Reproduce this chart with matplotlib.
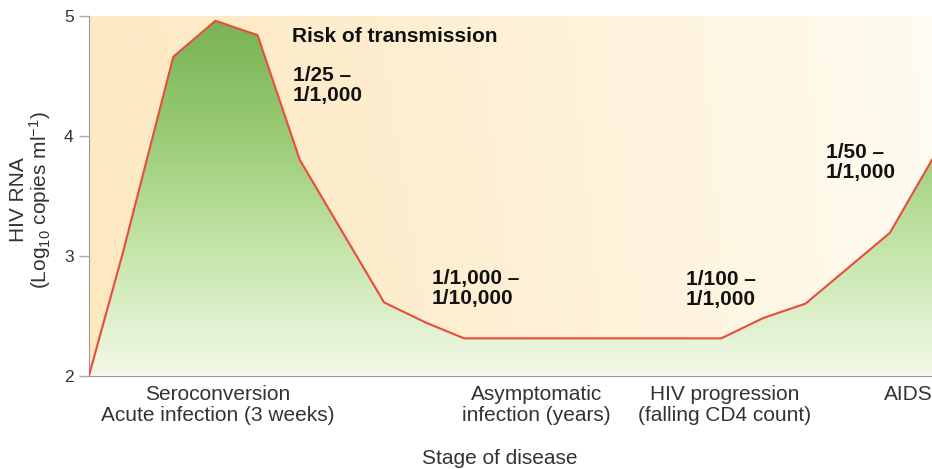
import numpy as np
import matplotlib
matplotlib.use("Agg")
import matplotlib.pyplot as plt
from matplotlib.colors import LinearSegmentedColormap
from matplotlib.patches import Polygon

plt.rcParams["font.family"] = ["Liberation Sans", "DejaVu Sans"]
plt.rcParams["mathtext.fontset"] = "custom"
plt.rcParams["mathtext.rm"] = "Liberation Sans"
plt.rcParams["mathtext.it"] = "Liberation Sans:italic"

# viral load curve (x = relative time through the stages, y = log10 copies/ml)
time = [0, 4, 10, 15, 20, 25, 35, 40, 44.5, 75, 80, 85, 95, 100]
rna = [2.0, 3.02, 4.66, 4.96, 4.84, 3.8, 2.61, 2.44, 2.31, 2.31, 2.48, 2.6, 3.19, 3.8]

stage_pos = [15.3, 53.1, 75.4, 97.2]
stage_labels = ["Seroconversion\nAcute infection (3 weeks)",
                "Asymptomatic\ninfection (years)",
                "HIV progression\n(falling CD4 count)",
                "AIDS"]

risk_pos = [(24.2, 4.42), (40.7, 2.725), (70.8, 2.72), (87.4, 3.78)]
risk_labels = ["1/25 –\n1/1,000", "1/1,000 –\n1/10,000",
               "1/100 –\n1/1,000", "1/50 –\n1/1,000"]

fig = plt.figure(figsize=(9.32, 4.69), dpi=100)
ax = fig.add_axes([89 / 932, 93.5 / 469, 1 - 89 / 932, 359.5 / 469])
ax.set_xlim(0, 100)
ax.set_ylim(2, 5)

# peach background, fading to the right
nx, ny = 200, 100
gx = np.linspace(0, 1, nx)[None, :] ** 1.3
gy = np.linspace(0, 1, ny)[:, None]
left = np.array([253, 232, 192]) / 255
right = np.array([255, 251, 240]) / 255
bg = left[None, None, :] * (1 - gx[..., None]) + right[None, None, :] * gx[..., None]
bg = bg * (0.93 + 0.07 * gy[..., None]) + 0.07 * (1 - gy[..., None])
bg = np.clip(bg, 0, 1)
ax.imshow(bg, extent=(0, 100, 2, 5), origin="upper", aspect="auto", zorder=0)

# green gradient under the curve
green = LinearSegmentedColormap.from_list(
    "g", ["#f2f9e8", "#c6e6ab", "#9acb75", "#76b253"])
grad = np.linspace(0, 1, 256).reshape(-1, 1)
im = ax.imshow(grad, extent=(0, 100, 2, 5), origin="lower", cmap=green,
               aspect="auto", zorder=1)
verts = np.column_stack([time + [time[-1], time[0]], rna + [2, 2]])
clip = Polygon(verts, closed=True, facecolor="none", edgecolor="none",
               transform=ax.transData)
ax.add_patch(clip)
im.set_clip_path(clip)

ax.plot(time, rna, color="#ec4a3c", lw=1.5, zorder=3)

ax.text(24.1, 4.825, "Risk of transmission", fontsize=15, fontweight="bold",
        color="#111111", va="center", ha="left", zorder=4)
for (px, py), lab in zip(risk_pos, risk_labels):
    ax.text(px, py, lab, fontsize=15, fontweight="bold", color="#111111",
            va="center", ha="left", linespacing=1.05, zorder=4)

for s in ["top", "right"]:
    ax.spines[s].set_visible(False)
ax.spines["left"].set_color("#999999")
ax.spines["bottom"].set_color("#999999")
ax.spines["bottom"].set_linestyle((0, (1, 1)))

ax.set_yticks([2, 3, 4, 5])
ax.tick_params(axis="y", length=7, width=1, color="#aaaaaa", pad=4,
               labelsize=12.5, labelcolor="#333333")
ax.set_xticks(stage_pos)
ax.set_xticklabels(stage_labels, linespacing=1.1)
ax.tick_params(axis="x", length=0, pad=7, labelsize=15, labelcolor="#333333")

ax.set_xlabel("Stage of disease", fontsize=15, color="#333333")
ax.xaxis.set_label_coords(0.4875, -0.205)

fig.text(31 / 932, 1 - 200 / 469, "HIV RNA\n(Log$_{10}$ copies ml$^{-1}$)",
         rotation=90, ha="center", va="center", fontsize=15, color="#333333",
         linespacing=1.0, multialignment="center")

fig.savefig("out.png", dpi=100)
